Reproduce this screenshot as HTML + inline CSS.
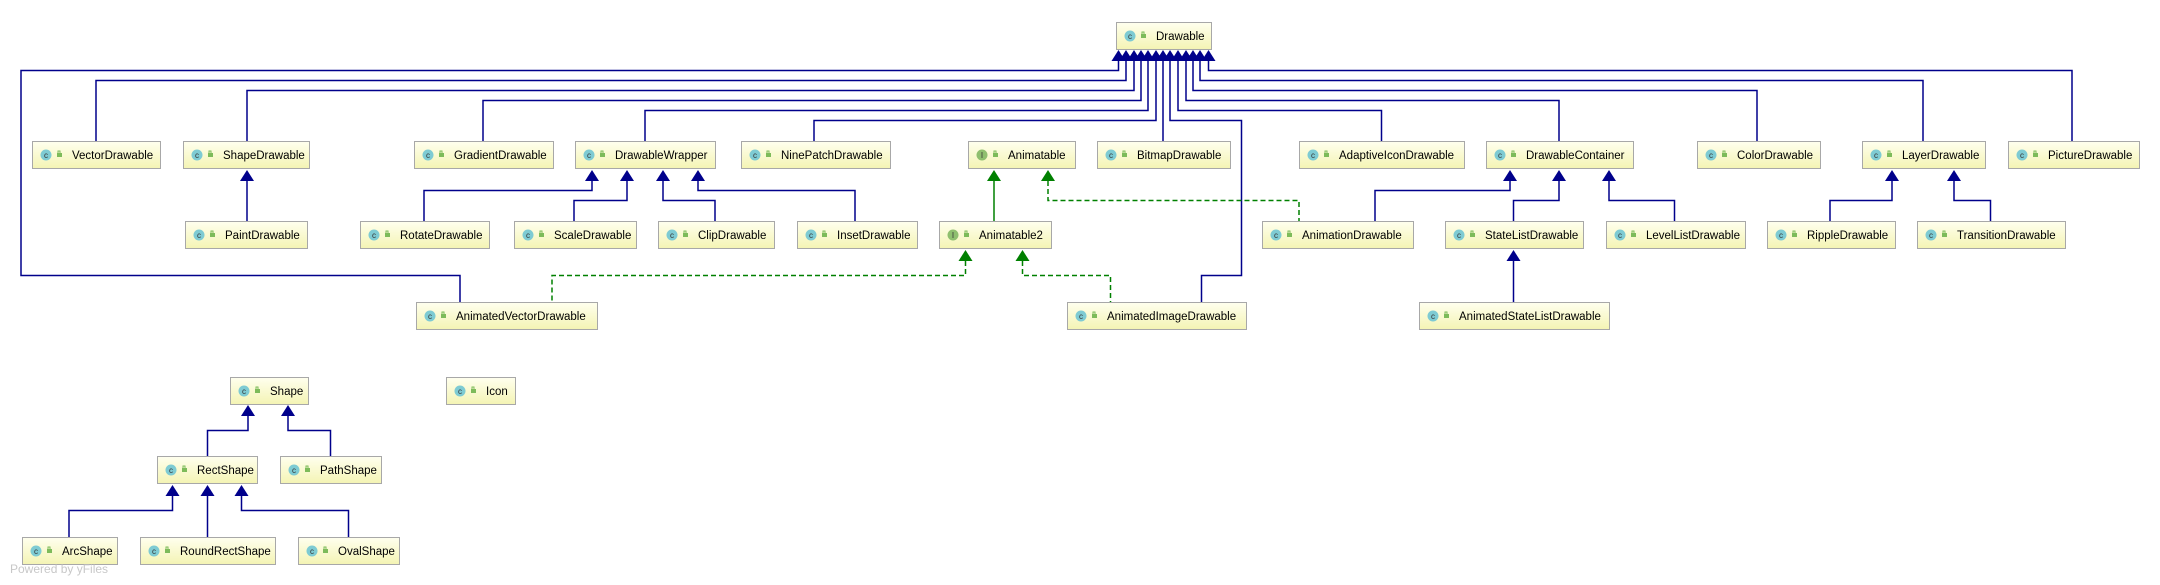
<!DOCTYPE html>
<html><head><meta charset="utf-8"><style>
html,body{margin:0;padding:0;background:#fff;}
svg{display:block;}
text{font-family:"Liberation Sans",sans-serif;font-size:11.5px;fill:#000;}
.ic{font-size:8px;fill:#333;}
</style></head><body>
<svg width="2160" height="585" viewBox="0 0 2160 585" xmlns="http://www.w3.org/2000/svg">
<defs>
<linearGradient id="g" x1="0" y1="0" x2="0" y2="1"><stop offset="0" stop-color="#ffffee"/><stop offset="1" stop-color="#f4f4b4"/></linearGradient>
<g id="lk"><rect x="0" y="3" width="5" height="4" fill="#7dbb5a"/><path d="M1,3 V1 H3 V3" stroke="#7dbb5a" stroke-width="1" fill="none"/></g>
</defs>

<g stroke="#00008b" stroke-width="1.5" fill="none">
<polyline points="1118.5,61 1118.5,70.5 21,70.5 21,275.5 460,275.5 460,302"/>
<polyline points="1126,61 1126,80.5 96,80.5 96,141"/>
<polyline points="1134,61 1134,90.5 247,90.5 247,141"/>
<polyline points="1141,61 1141,100.5 483,100.5 483,141"/>
<polyline points="1148,61 1148,110.5 645,110.5 645,141"/>
<polyline points="1156,61 1156,120.5 814,120.5 814,141"/>
<polyline points="1163,61 1163,141"/>
<polyline points="1170,61 1170,120.5 1241.5,120.5 1241.5,275.5 1201.5,275.5 1201.5,302"/>
<polyline points="1178,61 1178,110.5 1381.5,110.5 1381.5,141"/>
<polyline points="1186,61 1186,100.5 1559,100.5 1559,141"/>
<polyline points="1193,61 1193,90.5 1757,90.5 1757,141"/>
<polyline points="1200,61 1200,80.5 1923,80.5 1923,141"/>
<polyline points="1208.5,61 1208.5,70.5 2072,70.5 2072,141"/>
<polyline points="247,181 247,221"/>
<polyline points="592,181 592,190.5 424,190.5 424,221"/>
<polyline points="627,181 627,200.5 574,200.5 574,221"/>
<polyline points="663,181 663,200.5 715,200.5 715,221"/>
<polyline points="698,181 698,190.5 855,190.5 855,221"/>
<polyline points="1510,181 1510,190.5 1375,190.5 1375,221"/>
<polyline points="1559,181 1559,200.5 1513.5,200.5 1513.5,221"/>
<polyline points="1609,181 1609,200.5 1674.5,200.5 1674.5,221"/>
<polyline points="1513.5,261 1513.5,302"/>
<polyline points="1892,181 1892,200.5 1830,200.5 1830,221"/>
<polyline points="1954,181 1954,200.5 1990.5,200.5 1990.5,221"/>
<polyline points="248,416 248,430.5 207.5,430.5 207.5,456"/>
<polyline points="288,416 288,430.5 330.5,430.5 330.5,456"/>
<polyline points="172.5,496 172.5,510.5 69,510.5 69,537"/>
<polyline points="207.5,496 207.5,537"/>
<polyline points="241.5,496 241.5,510.5 348.5,510.5 348.5,537"/>
</g>
<g stroke="#008000" stroke-width="1.5" fill="none">
<polyline points="994,181 994,221"/>
<polyline points="1048,181 1048,200.5 1299,200.5 1299,221" stroke-dasharray="5,3"/>
<polyline points="965.5,261 965.5,275.5 552,275.5 552,302" stroke-dasharray="5,3"/>
<polyline points="1022.5,261 1022.5,275.5 1110.5,275.5 1110.5,302" stroke-dasharray="5,3"/>
</g>
<g fill="#00008b">
<path d="M1118.5,50 l-7,11 h14z"/><path d="M1126,50 l-7,11 h14z"/><path d="M1134,50 l-7,11 h14z"/><path d="M1141,50 l-7,11 h14z"/><path d="M1148,50 l-7,11 h14z"/><path d="M1156,50 l-7,11 h14z"/><path d="M1163,50 l-7,11 h14z"/><path d="M1170,50 l-7,11 h14z"/><path d="M1178,50 l-7,11 h14z"/><path d="M1186,50 l-7,11 h14z"/><path d="M1193,50 l-7,11 h14z"/><path d="M1200,50 l-7,11 h14z"/><path d="M1208.5,50 l-7,11 h14z"/>
<path d="M247,170 l-7,11 h14z"/>
<path d="M592,170 l-7,11 h14z"/><path d="M627,170 l-7,11 h14z"/><path d="M663,170 l-7,11 h14z"/><path d="M698,170 l-7,11 h14z"/>
<path d="M1510,170 l-7,11 h14z"/><path d="M1559,170 l-7,11 h14z"/><path d="M1609,170 l-7,11 h14z"/>
<path d="M1513.5,250 l-7,11 h14z"/>
<path d="M1892,170 l-7,11 h14z"/><path d="M1954,170 l-7,11 h14z"/>
<path d="M248,405 l-7,11 h14z"/><path d="M288,405 l-7,11 h14z"/>
<path d="M172.5,485 l-7,11 h14z"/><path d="M207.5,485 l-7,11 h14z"/><path d="M241.5,485 l-7,11 h14z"/>
</g>
<g fill="#008000">
<path d="M994,170 l-7,11 h14z"/><path d="M1048,170 l-7,11 h14z"/>
<path d="M965.5,250 l-7,11 h14z"/><path d="M1022.5,250 l-7,11 h14z"/>
</g>

<g stroke="#a8a8a8" stroke-width="1" fill="url(#g)">
<rect x="1116.5" y="22.5" width="95" height="27"/>
<rect x="32.5" y="141.5" width="128" height="27"/>
<rect x="183.5" y="141.5" width="126" height="27"/>
<rect x="414.5" y="141.5" width="139" height="27"/>
<rect x="575.5" y="141.5" width="140" height="27"/>
<rect x="741.5" y="141.5" width="149" height="27"/>
<rect x="968.5" y="141.5" width="107" height="27"/>
<rect x="1097.5" y="141.5" width="133" height="27"/>
<rect x="1299.5" y="141.5" width="165" height="27"/>
<rect x="1486.5" y="141.5" width="147" height="27"/>
<rect x="1697.5" y="141.5" width="123" height="27"/>
<rect x="1862.5" y="141.5" width="123" height="27"/>
<rect x="2008.5" y="141.5" width="131" height="27"/>
<rect x="185.5" y="221.5" width="122" height="27"/>
<rect x="360.5" y="221.5" width="129" height="27"/>
<rect x="514.5" y="221.5" width="122" height="27"/>
<rect x="658.5" y="221.5" width="116" height="27"/>
<rect x="797.5" y="221.5" width="120" height="27"/>
<rect x="939.5" y="221.5" width="112" height="27"/>
<rect x="1262.5" y="221.5" width="151" height="27"/>
<rect x="1445.5" y="221.5" width="138" height="27"/>
<rect x="1606.5" y="221.5" width="139" height="27"/>
<rect x="1767.5" y="221.5" width="128" height="27"/>
<rect x="1917.5" y="221.5" width="148" height="27"/>
<rect x="416.5" y="302.5" width="181" height="27"/>
<rect x="1067.5" y="302.5" width="179" height="27"/>
<rect x="1419.5" y="302.5" width="190" height="27"/>
<rect x="230.5" y="377.5" width="78" height="27"/>
<rect x="446.5" y="377.5" width="69" height="27"/>
<rect x="157.5" y="456.5" width="100" height="27"/>
<rect x="280.5" y="456.5" width="101" height="27"/>
<rect x="22.5" y="537.5" width="95" height="27"/>
<rect x="140.5" y="537.5" width="135" height="27"/>
<rect x="298.5" y="537.5" width="101" height="27"/>
</g>
<g fill="#7ecbd3">
<circle cx="1130" cy="36" r="5.5"/><circle cx="46" cy="155" r="5.5"/><circle cx="197" cy="155" r="5.5"/><circle cx="428" cy="155" r="5.5"/><circle cx="589" cy="155" r="5.5"/><circle cx="755" cy="155" r="5.5"/><circle cx="1111" cy="155" r="5.5"/><circle cx="1313" cy="155" r="5.5"/><circle cx="1500" cy="155" r="5.5"/><circle cx="1711" cy="155" r="5.5"/><circle cx="1876" cy="155" r="5.5"/><circle cx="2022" cy="155" r="5.5"/>
<circle cx="199" cy="235" r="5.5"/><circle cx="374" cy="235" r="5.5"/><circle cx="528" cy="235" r="5.5"/><circle cx="672" cy="235" r="5.5"/><circle cx="811" cy="235" r="5.5"/><circle cx="1276" cy="235" r="5.5"/><circle cx="1459" cy="235" r="5.5"/><circle cx="1620" cy="235" r="5.5"/><circle cx="1781" cy="235" r="5.5"/><circle cx="1931" cy="235" r="5.5"/>
<circle cx="430" cy="316" r="5.5"/><circle cx="1081" cy="316" r="5.5"/><circle cx="1433" cy="316" r="5.5"/>
<circle cx="244" cy="391" r="5.5"/><circle cx="460" cy="391" r="5.5"/><circle cx="171" cy="470" r="5.5"/><circle cx="294" cy="470" r="5.5"/><circle cx="36" cy="551" r="5.5"/><circle cx="154" cy="551" r="5.5"/><circle cx="312" cy="551" r="5.5"/>
</g>
<g fill="#8fbf6f"><circle cx="982" cy="155" r="5.5"/><circle cx="953" cy="235" r="5.5"/></g>
<g text-anchor="middle">
<text class="ic" x="1130" y="39">c</text><text class="ic" x="46" y="158">c</text><text class="ic" x="197" y="158">c</text><text class="ic" x="428" y="158">c</text><text class="ic" x="589" y="158">c</text><text class="ic" x="755" y="158">c</text><text class="ic" x="1111" y="158">c</text><text class="ic" x="1313" y="158">c</text><text class="ic" x="1500" y="158">c</text><text class="ic" x="1711" y="158">c</text><text class="ic" x="1876" y="158">c</text><text class="ic" x="2022" y="158">c</text>
<text class="ic" x="199" y="238">c</text><text class="ic" x="374" y="238">c</text><text class="ic" x="528" y="238">c</text><text class="ic" x="672" y="238">c</text><text class="ic" x="811" y="238">c</text><text class="ic" x="1276" y="238">c</text><text class="ic" x="1459" y="238">c</text><text class="ic" x="1620" y="238">c</text><text class="ic" x="1781" y="238">c</text><text class="ic" x="1931" y="238">c</text>
<text class="ic" x="430" y="319">c</text><text class="ic" x="1081" y="319">c</text><text class="ic" x="1433" y="319">c</text>
<text class="ic" x="244" y="394">c</text><text class="ic" x="460" y="394">c</text><text class="ic" x="171" y="473">c</text><text class="ic" x="294" y="473">c</text><text class="ic" x="36" y="554">c</text><text class="ic" x="154" y="554">c</text><text class="ic" x="312" y="554">c</text>
<text class="ic" x="982" y="158">I</text><text class="ic" x="953" y="238">I</text>
</g>
<use href="#lk" x="1141" y="31"/><use href="#lk" x="57" y="150"/><use href="#lk" x="208" y="150"/><use href="#lk" x="439" y="150"/><use href="#lk" x="600" y="150"/><use href="#lk" x="766" y="150"/><use href="#lk" x="993" y="150"/><use href="#lk" x="1122" y="150"/><use href="#lk" x="1324" y="150"/><use href="#lk" x="1511" y="150"/><use href="#lk" x="1722" y="150"/><use href="#lk" x="1887" y="150"/><use href="#lk" x="2033" y="150"/>
<use href="#lk" x="210" y="230"/><use href="#lk" x="385" y="230"/><use href="#lk" x="539" y="230"/><use href="#lk" x="683" y="230"/><use href="#lk" x="822" y="230"/><use href="#lk" x="964" y="230"/><use href="#lk" x="1287" y="230"/><use href="#lk" x="1470" y="230"/><use href="#lk" x="1631" y="230"/><use href="#lk" x="1792" y="230"/><use href="#lk" x="1942" y="230"/>
<use href="#lk" x="441" y="311"/><use href="#lk" x="1092" y="311"/><use href="#lk" x="1444" y="311"/>
<use href="#lk" x="255" y="386"/><use href="#lk" x="471" y="386"/><use href="#lk" x="182" y="465"/><use href="#lk" x="305" y="465"/><use href="#lk" x="47" y="546"/><use href="#lk" x="165" y="546"/><use href="#lk" x="323" y="546"/>

<text x="1156" y="40">Drawable</text>
<text x="72" y="159">VectorDrawable</text>
<text x="223" y="159">ShapeDrawable</text>
<text x="454" y="159">GradientDrawable</text>
<text x="615" y="159">DrawableWrapper</text>
<text x="781" y="159">NinePatchDrawable</text>
<text x="1008" y="159">Animatable</text>
<text x="1137" y="159">BitmapDrawable</text>
<text x="1339" y="159">AdaptiveIconDrawable</text>
<text x="1526" y="159">DrawableContainer</text>
<text x="1737" y="159">ColorDrawable</text>
<text x="1902" y="159">LayerDrawable</text>
<text x="2048" y="159">PictureDrawable</text>
<text x="225" y="239">PaintDrawable</text>
<text x="400" y="239">RotateDrawable</text>
<text x="554" y="239">ScaleDrawable</text>
<text x="698" y="239">ClipDrawable</text>
<text x="837" y="239">InsetDrawable</text>
<text x="979" y="239">Animatable2</text>
<text x="1302" y="239">AnimationDrawable</text>
<text x="1485" y="239">StateListDrawable</text>
<text x="1646" y="239">LevelListDrawable</text>
<text x="1807" y="239">RippleDrawable</text>
<text x="1957" y="239">TransitionDrawable</text>
<text x="456" y="320">AnimatedVectorDrawable</text>
<text x="1107" y="320">AnimatedImageDrawable</text>
<text x="1459" y="320">AnimatedStateListDrawable</text>
<text x="270" y="395">Shape</text>
<text x="486" y="395">Icon</text>
<text x="197" y="474">RectShape</text>
<text x="320" y="474">PathShape</text>
<text x="62" y="555">ArcShape</text>
<text x="180" y="555">RoundRectShape</text>
<text x="338" y="555">OvalShape</text>
<text x="10" y="573" style="font-size:12px;fill:#c8c8c8">Powered by yFiles</text>
</svg>
</body></html>
